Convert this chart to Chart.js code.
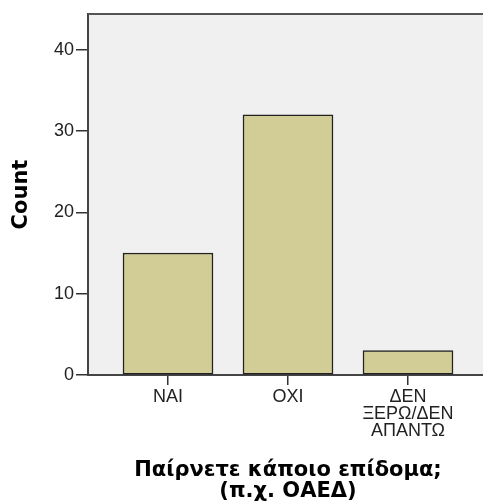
<!DOCTYPE html>
<html>
<head>
<meta charset="utf-8">
<script src="https://cdn.jsdelivr.net/npm/chart.js@4"></script>
<style>
  html, body { margin: 0; padding: 0; overflow: hidden; background: #fff; }
  #wrap { width: 488px; height: 504px; }
</style>
</head>
<body>
<div id="wrap"><canvas id="countChart" width="488" height="504"></canvas></div>
<script>
// Data untuk chart
const kategori = ["NAI", "OXI", ["ΔΕΝ", "ΞΕΡΩ/ΔΕΝ", "ΑΠΑΝΤΩ"]];
const jumlah = [15, 32, 3];
const tickY = [0, 10, 20, 30, 40];
const judulX = ["Παίρνετε κάποιο επίδομα;", "(π.χ. ΟΑΕΔ)"];
const judulY = "Count";

// Latar belakang abu-abu dan garis atas area plot
const bingkaiPlugin = {
  id: "bingkai",
  beforeDraw(chart) {
    const { ctx, chartArea } = chart;
    ctx.save();
    ctx.fillStyle = "#f0f0f0";
    ctx.fillRect(chartArea.left, chartArea.top, chartArea.right - chartArea.left, chartArea.bottom - chartArea.top);
    ctx.restore();
  },
  afterDraw(chart) {
    const { ctx, chartArea } = chart;
    ctx.save();
    ctx.strokeStyle = "#555";
    ctx.lineWidth = 2;
    ctx.beginPath();
    ctx.moveTo(chartArea.left, chartArea.top);
    ctx.lineTo(chartArea.right, chartArea.top);
    ctx.stroke();
    ctx.restore();
  },
};

function buatChart() {
  const ctx = document.getElementById("countChart").getContext("2d");
  new Chart(ctx, {
    type: "bar",
    data: {
      datasets: [
        {
          label: judulY,
          data: jumlah.map((v, i) => ({ x: i, y: v })),
          backgroundColor: "#d2cc96",
          borderColor: "#222",
          borderWidth: 1.5,
          borderSkipped: false,
          barThickness: 90,
        },
      ],
    },
    options: {
      responsive: false,
      animation: false,
      layout: { padding: { top: 14, left: 0, right: 0, bottom: 0 } },
      plugins: {
        legend: { display: false },
        tooltip: { enabled: false },
      },
      scales: {
        x: {
          type: "linear",
          offset: false,
          min: -0.6667,
          max: 2.6667,
          afterBuildTicks: (axis) => {
            axis.ticks = kategori.map((k, i) => ({ value: i }));
          },
          afterFit: (axis) => {
            axis.height = 129;
          },
          grid: { offset: false, drawOnChartArea: false, tickLength: 10, color: "#333", lineWidth: 1.5 },
          border: { display: true, color: "#444", width: 2 },
          ticks: {
            autoSkip: false,
            maxRotation: 0,
            padding: 3,
            color: "#222",
            font: { family: "Liberation Sans", size: 18, lineHeight: 0.95 },
            callback: (value) => kategori[value],
          },
          title: {
            display: true,
            text: judulX,
            color: "#000",
            font: { family: "DejaVu Sans", size: 21, weight: "bold", lineHeight: 1.0 },
            padding: { top: 0, bottom: 2 },
          },
        },
        y: {
          min: 0,
          max: 44.4,
          afterBuildTicks: (axis) => {
            axis.ticks = tickY.map((v) => ({ value: v }));
          },
          afterFit: (axis) => {
            axis.width = 88;
          },
          grid: { drawOnChartArea: false, tickLength: 12, color: "#333", lineWidth: 1.5 },
          border: { display: true, color: "#444", width: 2 },
          ticks: {
            padding: 2,
            color: "#222",
            font: { family: "Liberation Sans", size: 18 },
          },
          title: {
            display: true,
            text: judulY,
            color: "#000",
            font: { family: "DejaVu Sans", size: 21, weight: "bold" },
            padding: { top: 9, bottom: 0 },
          },
        },
      },
    },
    plugins: [bingkaiPlugin],
  });
}

document.addEventListener("DOMContentLoaded", function () {
  buatChart();
});
</script>
</body>
</html>
